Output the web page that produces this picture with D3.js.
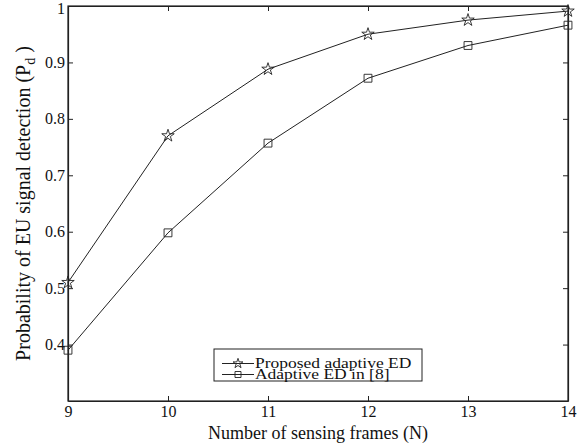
<!DOCTYPE html>
<meta charset="utf-8">
<script src="https://d3js.org/d3.v7.min.js"></script>
<style>
  body { margin: 0; background: #fff; }
  text { font-family: "Liberation Serif", "Times New Roman", serif; fill: #111; }
</style>
<body>
<div id="graph"></div>
<script>
// chart data
var frames = [9, 10, 11, 12, 13, 14];
var proposed = [0.51, 0.77, 0.888, 0.95, 0.975, 0.991];
var adaptive = [0.39, 0.598, 0.757, 0.872, 0.93, 0.966];
var yTicks = [0.4, 0.5, 0.6, 0.7, 0.8, 0.9, 1];
var seriesNames = ["Proposed adaptive ED", "Adaptive ED in [8]"];

var margin = {top: 6, right: 17, bottom: 44, left: 68},
    width = 585 - margin.left - margin.right,
    height = 445 - margin.top - margin.bottom;

var svg = d3.select("#graph").append("svg")
    .attr("width", 585)
    .attr("height", 445)
    .append("g")
    .attr("transform", "translate(" + margin.left + "," + margin.top + ")");

var x = d3.scaleLinear().domain([9, 14]).range([0, width]);
var y = d3.scaleLinear().domain([0.3, 1]).range([height, 0]);

// axes with inward ticks, box like matlab
var fmt = function(d) { return d === 1 ? "1" : d3.format(".1f")(d); };
svg.append("g")
    .attr("transform", "translate(0," + height + ")")
    .call(d3.axisBottom(x).tickValues(frames).tickSizeInner(-5).tickSizeOuter(0).tickPadding(5).tickFormat(d3.format("d")));
svg.append("g")
    .call(d3.axisLeft(y).tickValues(yTicks).tickSizeInner(-5).tickSizeOuter(0).tickPadding(3).tickFormat(fmt));
svg.append("g")
    .call(d3.axisTop(x).tickValues(frames).tickSizeInner(-5).tickSizeOuter(0).tickFormat(""));
svg.append("g")
    .attr("transform", "translate(" + width + ",0)")
    .call(d3.axisRight(y).tickValues(yTicks).tickSizeInner(-5).tickSizeOuter(0).tickFormat(""));

svg.selectAll(".domain").attr("stroke", "#222").attr("stroke-width", 1.2);
svg.selectAll(".tick line").attr("stroke", "#222");
svg.selectAll(".tick text").attr("font-size", 16).attr("fill", "#222");
// keep the top "1" inside the page
svg.selectAll(".tick text").filter(function(d) { return d === 1; }).attr("dy", "0.45em");
svg.append("rect")
    .attr("width", width).attr("height", height)
    .attr("fill", "none").attr("stroke", "#222").attr("stroke-width", 1.2);

// lines + markers
var line = d3.line()
    .x(function(d, i) { return x(frames[i]); })
    .y(function(d) { return y(d); });

var star = d3.symbol().type(d3.symbolStar).size(48);
var square = d3.symbol().type(d3.symbolSquare).size(62);

[[proposed, star], [adaptive, square]].forEach(function(s) {
  svg.append("path")
      .datum(s[0])
      .attr("fill", "none")
      .attr("stroke", "#222")
      .attr("stroke-width", 1)
      .attr("d", line);
  svg.selectAll(null)
      .data(s[0])
      .enter().append("path")
      .attr("transform", function(d, i) { return "translate(" + x(frames[i]) + "," + y(d) + ")"; })
      .attr("d", s[1])
      .attr("fill", "none")
      .attr("stroke", "#222")
      .attr("stroke-width", 0.9);
});

// axis labels
svg.append("text")
    .attr("x", width / 2)
    .attr("y", height + 38)
    .attr("text-anchor", "middle")
    .attr("font-size", 18)
    .text("Number of sensing frames (N)");

var yl = svg.append("text")
    .attr("transform", "translate(-38," + (height / 2) + ") rotate(-90)")
    .attr("text-anchor", "middle")
    .attr("font-size", 20);
yl.append("tspan").text("Probability of EU signal detection (P");
yl.append("tspan").attr("font-size", 14).attr("dy", 5).text("d");
yl.append("tspan").attr("dy", -5).text(" )");

// legend
var lgStar = d3.symbol().type(d3.symbolStar).size(30);
var lgSquare = d3.symbol().type(d3.symbolSquare).size(36);
var lg = svg.append("g").attr("transform", "translate(" + (214 - margin.left) + "," + (349 - margin.top) + ")");
lg.append("rect")
    .attr("width", 208).attr("height", 32)
    .attr("fill", "#fff").attr("stroke", "#222").attr("stroke-width", 1);
[lgStar, lgSquare].forEach(function(sym, i) {
  var yy = i === 0 ? 14.5 : 25.5;
  lg.append("line")
      .attr("x1", 8).attr("x2", 40).attr("y1", yy).attr("y2", yy)
      .attr("stroke", "#222");
  lg.append("path")
      .attr("transform", "translate(24," + yy + ")")
      .attr("d", sym)
      .attr("fill", "none").attr("stroke", "#222").attr("stroke-width", 0.9);
  lg.append("text")
      .attr("x", 41).attr("y", yy + 4.5)
      .attr("font-size", 14)
      .attr("transform", "translate(41,0) scale(1.25,1) translate(-41,0)")
      .text(seriesNames[i]);
});
</script>
</body>
